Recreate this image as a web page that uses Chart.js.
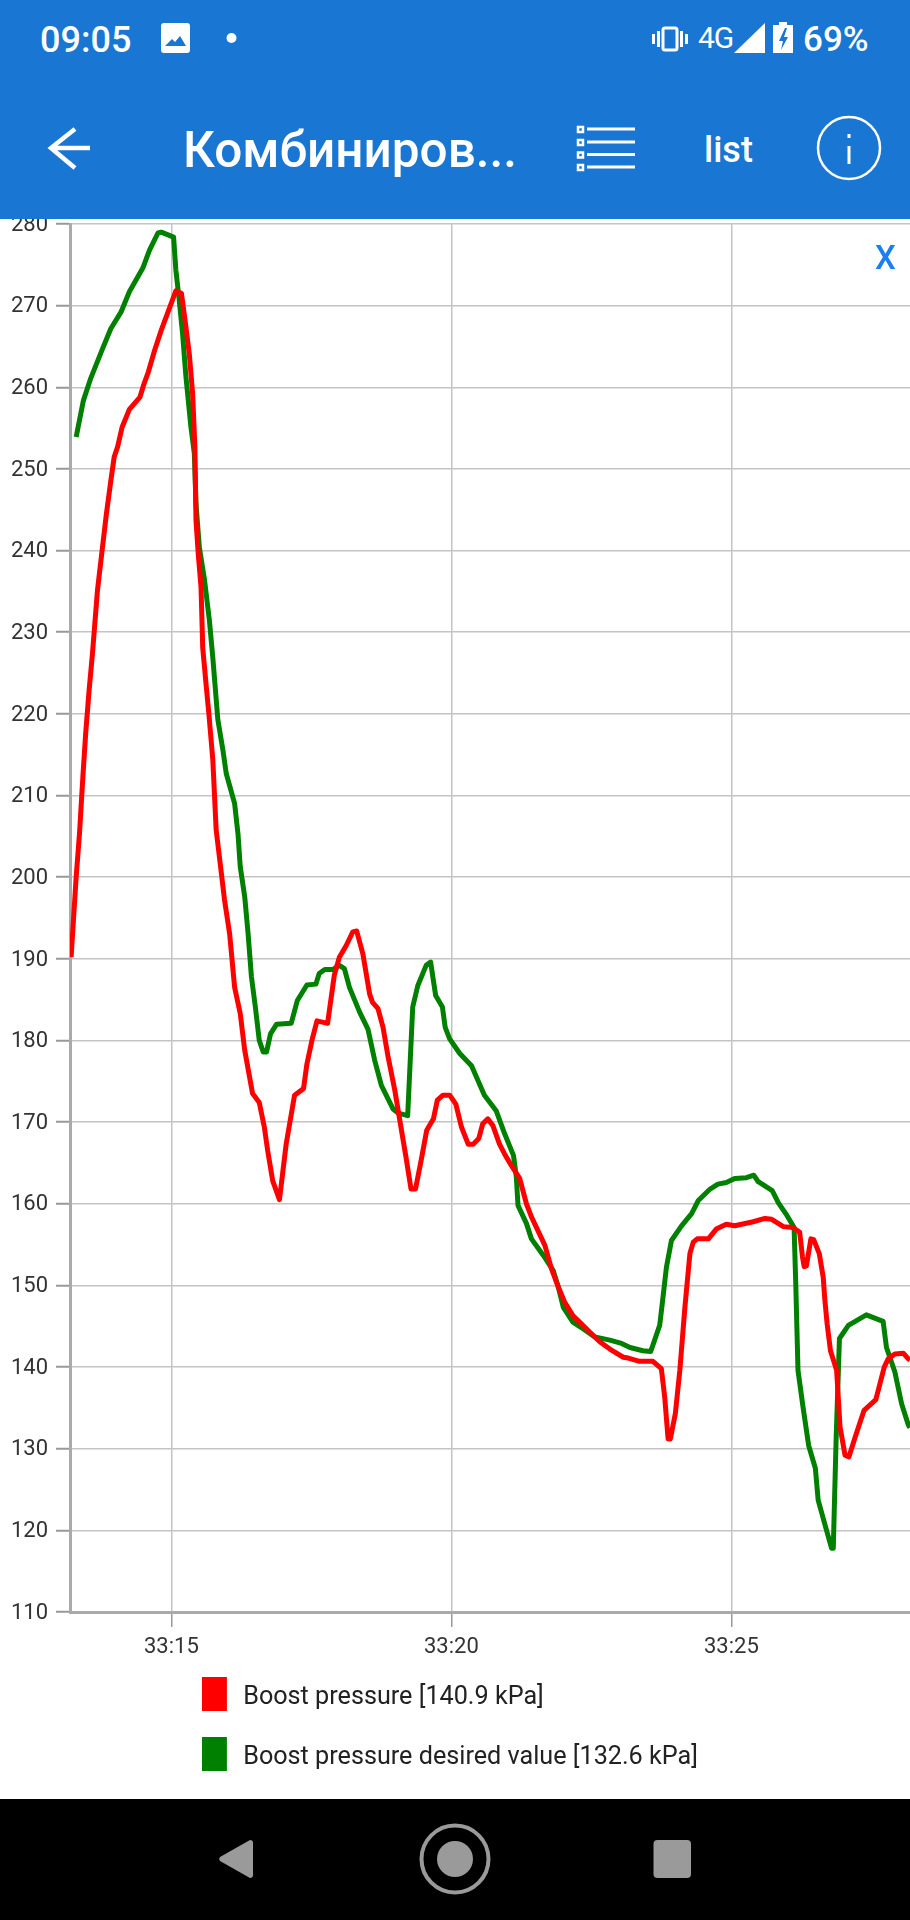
<!DOCTYPE html>
<html><head><meta charset="utf-8">
<style>
html,body{margin:0;padding:0;background:#fff;width:910px;height:1920px;overflow:hidden;font-family:Roboto,sans-serif}
#wrap{position:absolute;left:0;top:200px;width:910px;height:1598px}
#bar{position:absolute;left:0;top:0;width:910px;height:219px;background:#1976d2;z-index:5;border-bottom:0}
#nav{position:absolute;left:0;top:1799px;width:910px;height:121px;background:#000;z-index:5}
.t{position:absolute;color:#fff;white-space:nowrap;line-height:1}
svg{position:absolute;left:0;top:0}
#close{position:absolute;left:875px;top:241px;color:#1a7ff0;font-size:33px;font-weight:500;line-height:1;z-index:4}
</style>
<script src="https://cdn.jsdelivr.net/npm/chart.js@4"></script>
</head><body>
<div id="bar">
  <div class="t" style="left:40px;top:22px;font-size:36px;font-weight:500">09:05</div>
  <div class="t" style="left:698px;top:23px;font-size:30px;font-weight:400;letter-spacing:-1px">4G</div>
  <div class="t" style="left:803px;top:22px;font-size:35px;font-weight:500">69%</div>
  <div class="t" style="left:183px;top:126px;font-size:49.500px;font-weight:500">Комбиниров...</div>
  <div class="t" style="left:704px;top:132px;font-size:36px;font-weight:500">list</div>
  <svg width="910" height="219" fill="#fff">
    <path d="M164 23h23a3 3 0 0 1 3 3v24a3 3 0 0 1-3 3h-23a3 3 0 0 1-3-3V26a3 3 0 0 1 3-3zM165 46h21l-6-10-5 6-3-3z" fill-rule="evenodd"/>
    <circle cx="231.5" cy="38" r="5"/>
    <rect x="663" y="28" width="14" height="22" rx="2" fill="none" stroke="#fff" stroke-width="3"/>
    <rect x="657" y="31" width="3" height="16"/><rect x="680" y="31" width="3" height="16"/>
    <rect x="652" y="34" width="3" height="10"/><rect x="685" y="34" width="3" height="10"/>
    <path d="M734 53 765 23v30z"/>
    <path d="M779 22h8v3h6v28h-20V25h6z"/><path d="M785 28l-6 13h4l-2 9 7-13h-4l3-9z" fill="#1976d2"/>
    <path d="M75 129 51 148l24 20M51 148h39" fill="none" stroke="#fff" stroke-width="4.5" stroke-linejoin="miter"/>
    <g fill="none" stroke="#fff" stroke-width="2.5"><rect x="578" y="127" width="5" height="5"/><rect x="578" y="140" width="5" height="5"/><rect x="578" y="152.500" width="5" height="5"/><rect x="578" y="165" width="5" height="5"/></g>
    <rect x="587" y="127.500" width="48" height="3"/><rect x="587" y="140.500" width="48" height="3"/><rect x="587" y="153" width="48" height="3"/><rect x="587" y="165.500" width="48" height="3"/>
    <circle cx="849" cy="148" r="31" fill="none" stroke="#fff" stroke-width="2.5"/>
    <rect x="847.500" y="146" width="3" height="18"/><rect x="847.500" y="134" width="3" height="4"/>
  </svg>
</div>
<div id="wrap"><canvas id="c" width="910" height="1598"></canvas></div>
<div id="close">X</div>
<div id="nav">
  <svg width="910" height="121" fill="#9a9a9a">
    <path d="M250 41a3 3 0 0 1 3 2v34a3 3 0 0 1-3 2L220 62a3 3 0 0 1 0-4z"/>
    <circle cx="455" cy="60" r="33.500" fill="none" stroke="#9a9a9a" stroke-width="4"/>
    <circle cx="455" cy="60" r="18"/>
    <rect x="653.500" y="41" width="37.500" height="38" rx="4"/>
  </svg>
</div>
<script>
// Time in seconds past 33:00, pressure in kPa.
const boostTime = [13.21,13.30,13.36,13.42,13.47,13.53,13.59,13.68,13.77,13.84,13.92,13.98,14.04,14.12,14.25,14.44,14.51,14.59,14.70,14.82,15.08,15.18,15.26,15.32,15.38,15.42,15.44,15.48,15.53,15.56,15.62,15.67,15.74,15.80,15.95,16.04,16.13,16.23,16.31,16.45,16.57,16.66,16.72,16.81,16.93,17.05,17.20,17.36,17.42,17.51,17.60,17.79,17.91,18.00,18.12,18.24,18.31,18.42,18.54,18.59,18.69,18.78,18.87,18.99,19.08,19.19,19.28,19.36,19.46,19.56,19.68,19.75,19.85,19.97,20.08,20.18,20.30,20.39,20.49,20.56,20.65,20.74,20.86,20.95,21.07,21.22,21.34,21.43,21.67,21.79,21.91,22.02,22.17,22.29,22.47,22.65,22.83,23.07,23.16,23.36,23.60,23.75,23.81,23.87,23.91,24.00,24.08,24.17,24.26,24.32,24.39,24.59,24.73,24.91,25.06,25.39,25.60,25.72,25.93,26.10,26.22,26.27,26.30,26.34,26.42,26.47,26.57,26.64,26.67,26.71,26.77,26.88,26.94,27.03,27.10,27.21,27.37,27.58,27.73,27.80,27.92,28.07,28.16,28.19];
const boostValues = [190.2,200,205.4,212.3,217.6,222.8,227.3,235.1,240.4,244.5,248.6,251.5,252.7,255.1,257.3,258.8,260.4,261.9,264.5,267,271.8,271.5,267.4,264.1,259.2,252.7,243.7,239.6,235.5,228.1,223.6,220,214.4,205.8,197.2,193.1,186.5,183.3,178.8,173.5,172.4,169.4,166.5,162.8,160.5,167.3,173.3,174.1,177.1,180,182.4,182.1,188,190.2,191.6,193.3,193.4,190.6,185.7,184.7,183.9,181.6,178,173.9,170.2,165.7,161.8,161.8,165.3,169,170.4,172.7,173.3,173.3,172.2,169.4,167.3,167.3,168,169.8,170.4,169.6,167.3,166.1,164.7,163.1,160,158.4,154.9,152,149.8,148,146.3,145.5,144.3,143.1,142.2,141.2,141.1,140.7,140.7,139.8,136.3,131.2,131.2,134.3,139.6,147.3,153.9,155.3,155.7,155.7,156.9,157.5,157.3,157.8,158.2,158.1,157.2,157.1,156.5,153.5,152.3,152.4,155.7,155.6,153.9,151,148.2,145.3,142,139.6,132.7,129.2,129,131.4,134.7,136,140,141,141.6,141.7,141,140.9];
const desiredTime = [13.30,13.43,13.56,13.77,13.92,14.10,14.25,14.49,14.61,14.76,14.82,15.04,15.08,15.14,15.20,15.26,15.35,15.41,15.44,15.50,15.59,15.68,15.74,15.83,15.92,15.98,16.13,16.19,16.23,16.31,16.37,16.43,16.50,16.57,16.64,16.70,16.77,16.88,17.14,17.25,17.42,17.58,17.64,17.74,17.89,18.00,18.09,18.18,18.36,18.51,18.63,18.75,18.96,19.05,19.22,19.31,19.40,19.55,19.63,19.72,19.84,19.89,19.97,20.15,20.36,20.59,20.80,20.95,21.11,21.16,21.19,21.34,21.43,21.64,21.82,21.91,22.00,22.17,22.35,22.56,22.83,23.04,23.19,23.42,23.56,23.72,23.78,23.84,23.93,24.11,24.29,24.41,24.62,24.76,24.91,25.06,25.27,25.40,25.48,25.73,25.84,25.99,26.12,26.15,26.19,26.28,26.38,26.50,26.55,26.70,26.79,26.82,26.87,26.93,27.09,27.41,27.71,27.77,27.92,28.04,28.16,28.19];
const desiredValues = [253.9,258.4,261.1,264.7,267.2,269.2,271.7,274.6,276.8,278.9,279,278.4,274.4,270.7,266.6,261.3,255.1,251.9,245.7,240.4,236.5,231.4,226.9,219.3,215.6,212.7,209,205.3,201.3,197.6,193.1,187.8,184.1,180,178.6,178.6,180.8,182,182.1,184.9,186.8,186.9,188.2,188.7,188.7,189.2,188.8,186.5,183.5,181.4,177.6,174.5,171.6,171.1,170.8,184.1,186.7,189.2,189.6,185.5,184.1,181.6,180.2,178.4,176.9,173.3,171.4,168.6,165.9,163.3,159.8,157.6,155.7,153.7,151.8,149.8,147.3,145.5,144.7,143.7,143.3,142.9,142.4,142,141.9,145.1,148.6,152.2,155.5,157.3,158.8,160.4,161.8,162.4,162.6,163.1,163.2,163.5,162.7,161.6,160.1,158.6,157.1,150.2,139.6,135.1,130.4,127.6,123.7,120,117.8,117.8,131,143.5,145.1,146.4,145.6,142.4,139.4,135.5,132.9,132.6];
const seriesNames = ['Boost pressure [140.9 kPa]','Boost pressure desired value [132.6 kPa]'];
const seriesColors = ['#ff0000','#008000'];
const xMin = 13.19, xMax = 28.19;
const xTicks = [15, 20, 25];
const yMin = 110, yMax = 280, yStep = 10;

const toPoints = (xs, ys) => xs.map((x, i) => ({x, y: ys[i]}));
const tickFont = {family: 'Roboto', size: 22};

const legendTop = 1454.7, legendPad = 11.6, boxH = 48.4, rowH = 60;

const placeLegend = {
  id: 'placeLegend',
  afterLayout(chart) {
    const l = chart.legend;
    l.left = 198.3 - legendPad; l.top = legendTop + 18.6 - legendPad; l.right = 905; l.bottom = 1597;
    l.width = l.right - l.left; l.height = l.bottom - l.top;
  }
};

// Swatch sits a little above the centre of its text row, as in the app.
const swatchFill = (ctx, i, color) => {
  const top = legendTop + 18.6 + rowH * i;
  const g = ctx.createLinearGradient(0, top, 0, top + boxH);
  g.addColorStop(0, color); g.addColorStop(0.78, color);
  g.addColorStop(0.78, '#ffffff'); g.addColorStop(1, '#ffffff');
  return g;
};

new Chart(document.getElementById('c'), {
  type: 'line',
  data: {datasets: [
    {label: seriesNames[0], data: toPoints(boostTime, boostValues), borderColor: seriesColors[0], backgroundColor: seriesColors[0], borderWidth: 5, pointRadius: 0, tension: 0, borderJoinStyle: 'round'},
    {label: seriesNames[1], data: toPoints(desiredTime, desiredValues), borderColor: seriesColors[1], backgroundColor: seriesColors[1], borderWidth: 5, pointRadius: 0, tension: 0, borderJoinStyle: 'round'}
  ]},
  options: {
    responsive: false, animation: false,
    layout: {padding: {top: 24, right: 0, bottom: 0, left: 0}},
    plugins: {
      tooltip: {enabled: false},
      legend: {
        display: true, position: 'chartArea', align: 'start',
        labels: {
          boxWidth: 32.3, boxHeight: boxH, padding: rowH - boxH, color: '#222',
          font: {family: 'Roboto', size: 25.2},
          generateLabels: chart => Chart.defaults.plugins.legend.labels.generateLabels(chart).map((it, i) => ({...it, lineWidth: 7.4, strokeStyle: '#fff', fillStyle: swatchFill(chart.ctx, i, seriesColors[i])}))
        }
      }
    },
    scales: {
      x: {
        type: 'linear', min: xMin, max: xMax, offset: false,
        afterBuildTicks: s => { s.ticks = xTicks.map(value => ({value})); },
        afterFit: s => { s.height = 186; },
        border: {color: '#aaaaaa', width: 3},
        grid: {color: '#c4c4c4', lineWidth: 1.5, tickLength: 15, tickColor: '#999999', tickWidth: 1.5},
        ticks: {maxRotation: 0, autoSkip: false, padding: 7, color: '#333', font: tickFont,
          callback: v => '33:' + String(v).padStart(2, '0')}
      },
      y: {
        type: 'linear', min: yMin, max: yMax,
        afterFit: s => { s.width = 70; },
        border: {color: '#aaaaaa', width: 3},
        grid: {color: '#c4c4c4', lineWidth: 1.5, tickLength: 14, tickColor: '#999999', tickWidth: 2},
        ticks: {stepSize: yStep, padding: 8, labelOffset: 1.2, color: '#333', font: tickFont, autoSkip: false}
      }
    }
  },
  plugins: [placeLegend]
});
</script>
</body></html>
